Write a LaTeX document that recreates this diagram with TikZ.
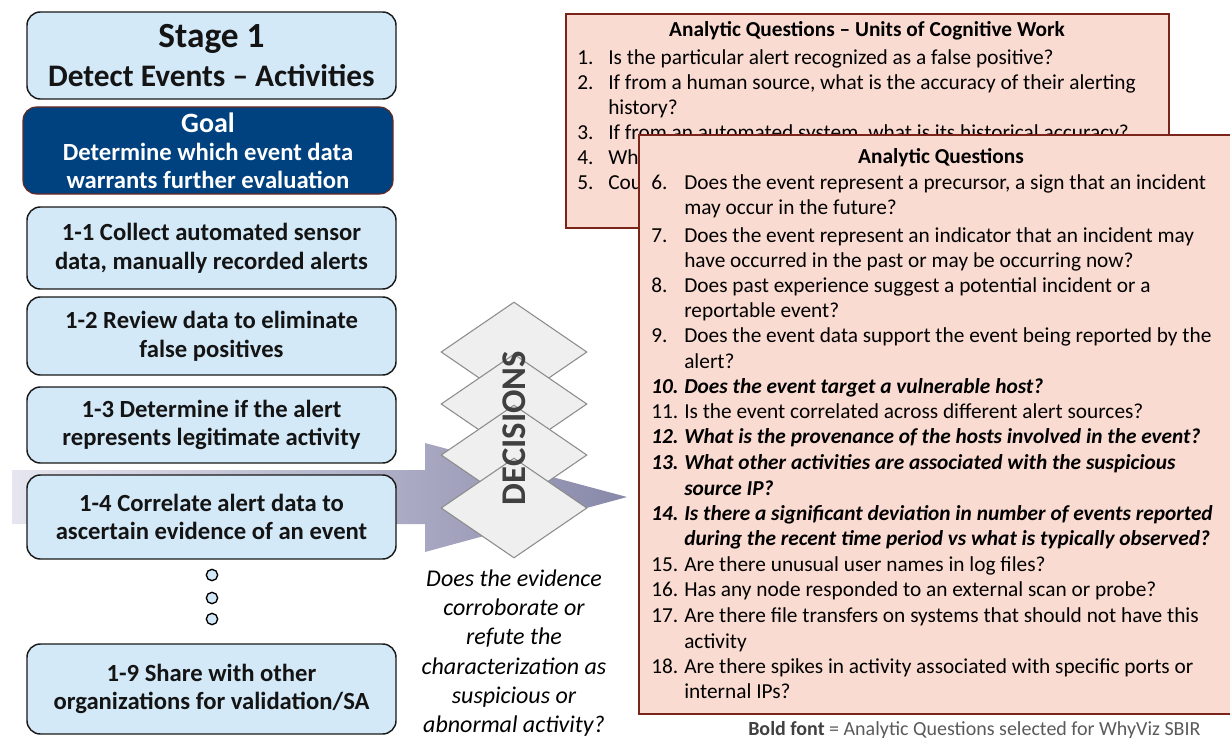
\documentclass[tikz,border=0pt]{standalone}
\usepackage{fontspec}
\setmainfont{Carlito}
\usetikzlibrary{shapes.geometric}

\definecolor{actfill}{RGB}{211,233,248}
\definecolor{goalblue}{RGB}{0,66,128}
\definecolor{goalrim}{RGB}{112,40,30}
\definecolor{qfill}{RGB}{250,219,209}
\definecolor{qrim}{RGB}{122,36,26}
\definecolor{arrowL}{RGB}{230,230,240}
\definecolor{arrowR}{RGB}{136,136,170}
\definecolor{decfill}{RGB}{239,239,239}
\definecolor{decrim}{RGB}{140,140,140}
\definecolor{dectext}{RGB}{64,64,64}
\definecolor{notegray}{RGB}{90,90,90}

\tikzset{
  actbox/.style={draw=black!90, line width=1.1pt, fill=actfill, rounded corners=10pt,
    align=center, minimum width=276.75pt, inner sep=0pt, text=black!92,
    font=\fontsize{18.5}{21.5}\selectfont\bfseries},
  goalbox/.style={actbox, draw=goalrim, line width=0.8pt, fill=goalblue, text=white,
    font=\fontsize{18.5}{21}\selectfont\bfseries},
  dotmark/.style={circle, draw=black, fill=actfill, line width=1pt, minimum size=8.5pt, inner sep=0pt},
  decbox/.style={diamond, draw=decrim, fill=decfill, line width=0.8pt,
    minimum width=109.5pt, minimum height=75pt, inner sep=0pt},
  qpanel/.style={fill=qfill, draw=qrim, line width=1pt},
  qline/.style={anchor=base west, inner sep=0pt, font=\fontsize{16}{19}\selectfont},
  qsel/.style={qline, font=\fontsize{16}{19}\selectfont\bfseries\itshape},
  qhead/.style={anchor=base, inner sep=0pt, font=\fontsize{16}{19}\selectfont\bfseries},
}

\begin{document}
\begin{tikzpicture}[x=0.75pt, y=-0.75pt]
\useasboundingbox (0,0) rectangle (1230,738);
\clip (0,0) rectangle (1230,738);

% flow arrow running behind step 1-4
\shade[left color=arrowL, right color=arrowR] (12,470) -- (425,470) -- (425,443) -- (627,497)
  -- (425,552) -- (425,524) -- (12,524) -- cycle;

% stage column
\node[actbox, minimum height=65.25pt] (stage) at (211.5,55.5)
  {{\fontsize{26.5}{30}\selectfont Stage 1}\\[7.5pt]{\fontsize{23.5}{28}\selectfont Detect Events -- Activities}};
\node[goalbox, minimum width=277.5pt, minimum height=65.25pt] (goal) at (208,150.5)
  {{\fontsize{21}{24}\selectfont Goal}\\ Determine which event data\\ warrants further evaluation};
\node[actbox, minimum height=61.5pt] (s11) at (211.5,248) {1-1 Collect automated sensor\\ data, manually recorded alerts};
\node[actbox, minimum height=58.5pt] (s12) at (211.5,336) {1-2 Review data to eliminate\\ false positives};
\node[actbox, minimum height=57pt] (s13) at (211.5,425) {1-3 Determine if the alert\\ represents legitimate activity};
\node[actbox, minimum height=63pt] (s14) at (211.5,517) {1-4 Correlate alert data to\\ ascertain evidence of an event};
\node[dotmark] (dot1) at (212,575) {};
\node[dotmark] (dot2) at (212,598) {};
\node[dotmark] (dot3) at (212,619) {};
\node[actbox, minimum height=67.5pt] (s19) at (211.5,689) {1-9 Share with other\\ organizations for validation/SA};

% decision stack
\node[decbox] (dec1) at (514,352) {};
\node[decbox] (dec2) at (514,404) {};
\node[decbox] (dec3) at (514,455) {};
\node[decbox] (dec4) at (514,508) {};
\node[rotate=90, text=dectext, font=\fontsize{26}{30}\selectfont\bfseries] (declabel) at (514,428) {DECISIONS};
\node[align=center, font=\fontsize{18}{22}\selectfont\itshape] (decq) at (514,653)
  {Does the evidence\\ corroborate or\\ refute the\\ characterization as\\ suspicious or\\ abnormal activity?};

% questions 1-5
\filldraw[qpanel] (566,14) rectangle (1169,228);
\node[qhead] (cwhead) at (867,37) {Analytic Questions -- Units of Cognitive Work};
\node[qline] (n1) at (577,65) {1.};
\node[qline] (q1) at (608,65) {Is the particular alert recognized as a false positive?};
\node[qline] (n2) at (577,90) {2.};
\node[qline] (q2) at (608,90) {If from a human source, what is the accuracy of their alerting};
\node[qline] (q2b) at (608,115) {history?};
\node[qline] (n3) at (577,140) {3.};
\node[qline] (q3) at (608,140) {If from an automated system, what is its historical accuracy?};
\node[qline] (n4) at (577,165) {4.};
\node[qline] (q4) at (608,165) {Wh};
\node[qline] (n5) at (577,190) {5.};
\node[qline] (q5) at (608,190) {Cou};

% questions 6-18
\filldraw[qpanel] (639,135) rectangle (1240,714);
\node[qhead] (aqhead) at (941,163) {Analytic Questions};
\node[qline] (n6) at (651,190) {6.};
\node[qline] (q6) at (684,190) {Does the event represent a precursor, a sign that an incident};
\node[qline] (q6b) at (684,214) {may occur in the future?};
\node[qline] (n7) at (651,242) {7.};
\node[qline] (q7) at (684,242) {Does the event represent an indicator that an incident may};
\node[qline] (q7b) at (684,267) {have occurred in the past or may be occurring now?};
\node[qline] (n8) at (651,292) {8.};
\node[qline] (q8) at (684,292) {Does past experience suggest a potential incident or a};
\node[qline] (q8b) at (684,317) {reportable event?};
\node[qline] (n9) at (651,342) {9.};
\node[qline] (q9) at (684,342) {Does the event data support the event being reported by the};
\node[qline] (q9b) at (684,368) {alert?};
\node[qsel] (n10) at (651,393) {10.};
\node[qsel] (q10) at (684,393) {Does the event target a vulnerable host?};
\node[qline] (n11) at (651,418) {11.};
\node[qline] (q11) at (684,418) {Is the event correlated across different alert sources?};
\node[qsel] (n12) at (651,443) {12.};
\node[qsel] (q12) at (684,443) {What is the provenance of the hosts involved in the event?};
\node[qsel] (n13) at (651,469) {13.};
\node[qsel] (q13) at (684,469) {What other activities are associated with the suspicious};
\node[qsel] (q13b) at (684,495) {source IP?};
\node[qsel] (n14) at (651,520) {14.};
\node[qsel] (q14) at (684,520) {Is there a significant deviation in number of events reported};
\node[qsel] (q14b) at (684,545) {during the recent time period vs what is typically observed?};
\node[qline] (n15) at (651,571) {15.};
\node[qline] (q15) at (684,571) {Are there unusual user names in log files?};
\node[qline] (n16) at (651,596) {16.};
\node[qline] (q16) at (684,596) {Has any node responded to an external scan or probe?};
\node[qline] (n17) at (651,622) {17.};
\node[qline] (q17) at (684,622) {Are there file transfers on systems that should not have this};
\node[qline] (q17b) at (684,648) {activity};
\node[qline] (n18) at (651,673) {18.};
\node[qline] (q18) at (684,673) {Are there spikes in activity associated with specific ports or};
\node[qline] (q18b) at (684,698) {internal IPs?};

\node[anchor=base west, inner sep=0pt, text=notegray, font=\fontsize{15}{18}\selectfont] (note) at (748,735)
  {\textcolor{black!75}{\bfseries Bold font} = Analytic Questions selected for WhyViz SBIR};
\end{tikzpicture}
\end{document}
